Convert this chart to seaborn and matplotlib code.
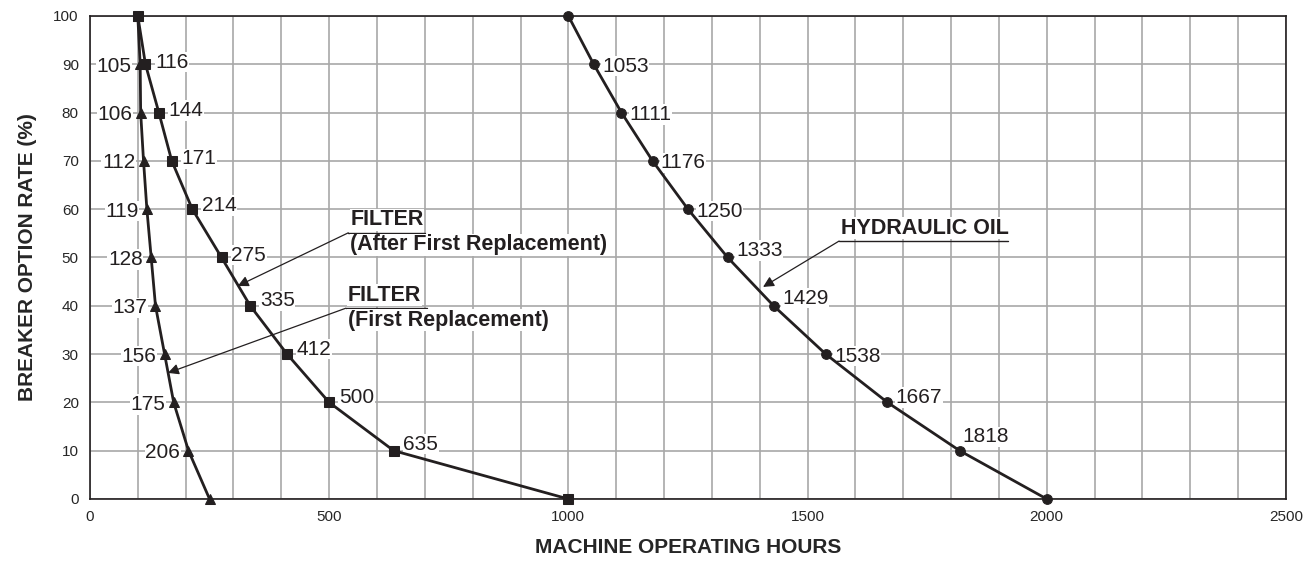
import matplotlib
matplotlib.use("Agg")
import numpy as np
import pandas as pd
import seaborn as sns
import matplotlib.pyplot as plt
from matplotlib.ticker import MultipleLocator

# breaker option rate (%)
rate = [100, 90, 80, 70, 60, 50, 40, 30, 20, 10, 0]

# machine operating hours per series
filter_first = [100, 105, 106, 112, 119, 128, 137, 156, 175, 206, 250]
filter_after = [100, 116, 144, 171, 214, 275, 335, 412, 500, 635, 1000]
hyd_oil = [1000, 1053, 1111, 1176, 1250, 1333, 1429, 1538, 1667, 1818, 2000]

# which points carry a number label
first_labels = [None, 105, 106, 112, 119, 128, 137, 156, 175, 206, None]
after_labels = [None, 116, 144, 171, 214, 275, 335, 412, 500, 635, None]
oil_labels = [None, 1053, 1111, 1176, 1250, 1333, 1429, 1538, 1667, 1818, None]

df = pd.concat([
    pd.DataFrame({"hours": filter_first, "rate": rate, "series": "first"}),
    pd.DataFrame({"hours": filter_after, "rate": rate, "series": "after"}),
    pd.DataFrame({"hours": hyd_oil, "rate": rate, "series": "oil"}),
])

sns.set_style("white")
plt.rcParams["font.family"] = ["Liberation Sans", "DejaVu Sans"]

ink = "#231f20"
fig = plt.figure(figsize=(13.15, 5.63), dpi=100)
ax = fig.add_axes([0.0684, 0.1137, 0.9095, 0.858])

markers = {"first": "^", "after": "s", "oil": "o"}
sizes = {"first": 7.5, "after": 6.5, "oil": 7}
for key, sub in df.groupby("series", sort=False):
    sns.lineplot(data=sub, x="hours", y="rate", ax=ax, color=ink, lw=2,
                 marker=markers[key], markersize=sizes[key], markeredgecolor=ink,
                 sort=False, estimator=None, zorder=5, clip_on=False)

ax.set_xlim(0, 2500)
ax.set_ylim(0, 100)
ax.xaxis.set_major_locator(MultipleLocator(500))
ax.xaxis.set_minor_locator(MultipleLocator(100))
ax.yaxis.set_major_locator(MultipleLocator(10))
ax.grid(which="both", color="#a8a8a8", lw=1.2)
ax.set_axisbelow(True)
ax.tick_params(axis="both", which="both", length=0, labelsize=11, pad=8)
for sp in ax.spines.values():
    sp.set_color(ink)
    sp.set_linewidth(1.2)

ax.set_xlabel("MACHINE OPERATING HOURS", fontsize=15, fontweight="bold", labelpad=10)
ax.set_ylabel("BREAKER OPTION RATE (%)", fontsize=15, fontweight="bold", labelpad=12)

box = dict(facecolor="white", edgecolor="none", pad=0.5)
fs = 15
for x, y, lab in zip(filter_first, rate, first_labels):
    if lab is not None:
        ax.annotate(str(lab), (x, y), xytext=(-6, 0), textcoords="offset points",
                    ha="right", va="center_baseline", fontsize=fs, color=ink, bbox=box, zorder=4)
after_dy = [0, 3, 3, 3, 4, 3, 5, 5, 5, 6, 0]
for (x, y, lab), dy in zip(zip(filter_after, rate, after_labels), after_dy):
    if lab is not None:
        ax.annotate(str(lab), (x, y), xytext=(7, dy), textcoords="offset points",
                    ha="left", va="center_baseline", fontsize=fs, color=ink, bbox=box, zorder=4)
oil_dy = [0, 0, 0, 0, 0, 6.5, 7, 0, 5, 11.5, 0]
oil_dx = [0, 6, 6, 6, 6, 6, 6, 6, 6, 2, 0]
for (x, y, lab), dy, dx in zip(zip(hyd_oil, rate, oil_labels), oil_dy, oil_dx):
    if lab is not None:
        ax.annotate(str(lab), (x, y), xytext=(dx, dy), textcoords="offset points",
                    ha="left", va="center_baseline", fontsize=fs, color=ink, bbox=box, zorder=4)

# callouts
def callout(x0, x1, yline, tip, title, sub=None):
    ax.plot([x0, x1], [yline, yline], color=ink, lw=1.0, zorder=6)
    ax.annotate("", xy=tip, xytext=(x0, yline),
                arrowprops=dict(arrowstyle="-|>", color=ink, lw=0.9,
                                mutation_scale=16, shrinkA=0, shrinkB=0), zorder=6)
    ax.text(x0 + 4, yline + 0.5, title, ha="left", va="bottom", fontsize=15.5,
            fontweight="bold", color=ink, bbox=box, zorder=6)
    if sub:
        ax.text(x0 + 4, yline - 0.3, sub, ha="left", va="top", fontsize=15.5,
                fontweight="bold", color=ink, bbox=box, zorder=6)

callout(540, 700, 55.1, (309, 44.1), "FILTER", "(After First Replacement)")
callout(535, 704, 39.5, (163, 26.1), "FILTER", "(First Replacement)")
callout(1566, 1919, 53.4, (1407, 43.9), "HYDRAULIC OIL")

fig.savefig("out.png", dpi=100)
